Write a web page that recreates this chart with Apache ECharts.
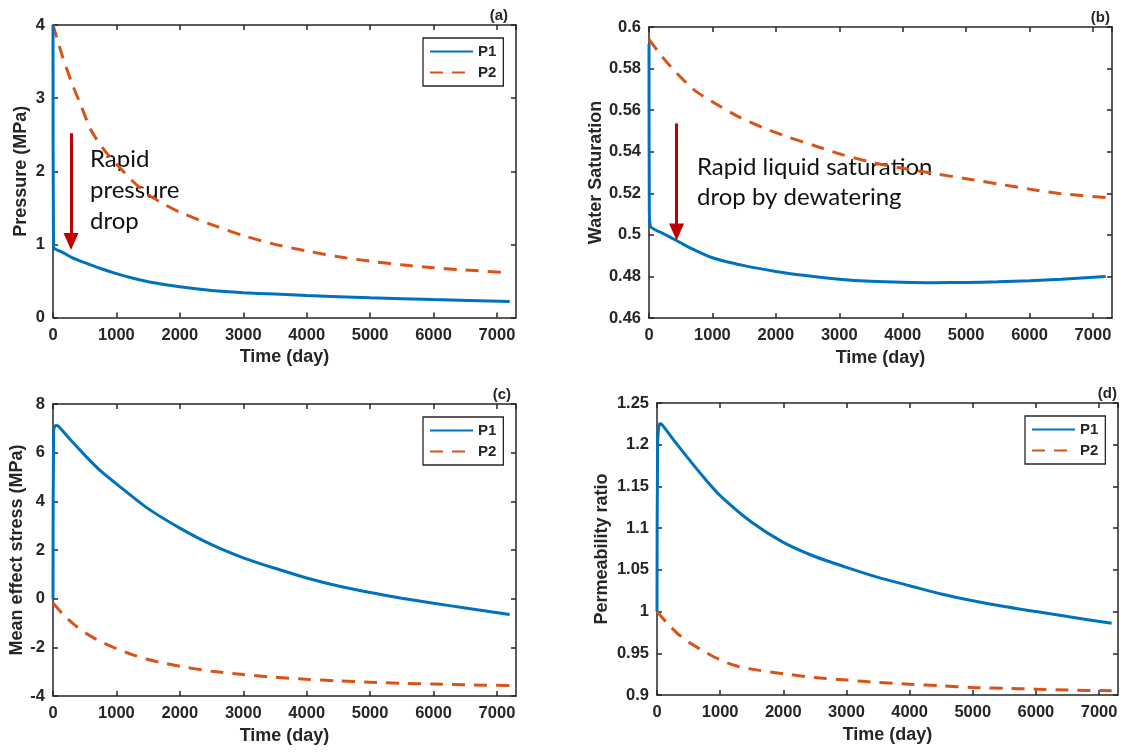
<!DOCTYPE html>
<html>
<head>
<meta charset="utf-8">
<title>Dewatering response P1 / P2</title>
<script src="https://cdn.jsdelivr.net/npm/echarts@6/dist/echarts.min.js"></script>
<style>
  html, body { margin: 0; padding: 0; background: #fff; }
  #main { width: 1125px; height: 752px; }
</style>
</head>
<body>
<div id="main"></div>
<script>
// (a) pressure, MPa
var tPresP1 = [0, 8, 50, 150, 300, 500, 750, 1000, 1250, 1500, 2000, 2500, 3000, 3500, 4000, 5000, 6000, 7200];
var presP1 = [4.0, 0.96, 0.93, 0.89, 0.82, 0.75, 0.67, 0.60, 0.54, 0.49, 0.42, 0.37, 0.34, 0.32, 0.30, 0.27, 0.245, 0.22];
var tPresP2 = [0, 150, 300, 450, 600, 800, 1000, 1250, 1500, 1750, 2000, 2500, 3000, 3500, 4000, 4500, 5000, 5500, 6000, 6500, 7200];
var presP2 = [4.0, 3.57, 3.2, 2.88, 2.56, 2.3, 2.1, 1.87, 1.68, 1.55, 1.44, 1.27, 1.12, 1.0, 0.91, 0.83, 0.77, 0.72, 0.68, 0.65, 0.61];

// (b) water saturation
var tSatP1 = [0, 5, 25, 200, 400, 600, 1000, 1500, 2000, 2500, 3000, 3500, 4000, 4500, 5000, 5500, 6000, 6500, 7200];
var satP1 = [0.592, 0.512, 0.504, 0.501, 0.4978, 0.4945, 0.489, 0.4852, 0.4824, 0.4803, 0.4787, 0.4777, 0.4772, 0.4770, 0.4771, 0.4774, 0.4779, 0.4786, 0.4800];
var tSatP2 = [0, 200, 400, 700, 1000, 1400, 1800, 2200, 2600, 3000, 3500, 4000, 4500, 5000, 5500, 6000, 6500, 7200];
var satP2 = [0.594, 0.586, 0.579, 0.570, 0.564, 0.557, 0.5515, 0.547, 0.543, 0.539, 0.535, 0.532, 0.5295, 0.527, 0.5245, 0.522, 0.5198, 0.518];

// (c) mean effective stress, MPa
var tStrP1 = [0, 10, 40, 80, 250, 500, 750, 1000, 1500, 2000, 2500, 3000, 3500, 4000, 4500, 5000, 5500, 6000, 6500, 7200];
var strP1 = [0, 6.9, 7.12, 7.1, 6.6, 5.9, 5.25, 4.72, 3.7, 2.9, 2.22, 1.68, 1.25, 0.85, 0.52, 0.25, 0.02, -0.19, -0.38, -0.65];
var tStrP2 = [0, 150, 350, 600, 800, 1000, 1250, 1500, 1750, 2000, 2500, 3000, 3500, 4000, 4500, 5000, 5500, 6000, 6500, 7200];
var strP2 = [-0.18, -0.62, -1.1, -1.55, -1.82, -2.05, -2.3, -2.5, -2.65, -2.78, -2.98, -3.12, -3.23, -3.31, -3.38, -3.43, -3.48, -3.51, -3.54, -3.57];

// (d) permeability ratio
var tPermP1 = [0, 10, 40, 80, 250, 500, 750, 1000, 1500, 2000, 2500, 3000, 3500, 4000, 4500, 5000, 5500, 6000, 6500, 7200];
var permP1 = [1.0, 1.2, 1.225, 1.224, 1.207, 1.183, 1.16, 1.139, 1.107, 1.083, 1.066, 1.053, 1.041, 1.031, 1.021, 1.013, 1.006, 1.0, 0.994, 0.986];
var tPermP2 = [0, 150, 350, 550, 750, 1000, 1250, 1500, 2000, 2500, 3000, 3500, 4000, 4500, 5000, 5500, 6000, 6500, 7200];
var permP2 = [1.0, 0.987, 0.972, 0.961, 0.952, 0.942, 0.935, 0.931, 0.9255, 0.921, 0.918, 0.915, 0.913, 0.911, 0.909, 0.908, 0.907, 0.906, 0.905];

var seriesNames = ['P1', 'P2'];
var xRange = [0, 7300, 1000];

// arrows: [time, from value, to value]
var arrowA = [284, 2.52, 1.04];
var arrowB = [435, 0.5536, 0.5014];

var BLUE = '#0072BD';
var ORANGE = '#D95319';
var INK = '#262626';
var FONT = '"Liberation Sans", Arial, sans-serif';

function pairs(t, v) {
    var out = [];
    for (var i = 0; i < t.length; i++) out.push([t[i], v[i]]);
    return out;
}

function fmt(v) {
    return String(+v.toFixed(2));
}

var panels = [
    { tag: '(a)', tagOff: 8, grid: { left: 53, top: 25, width: 463, height: 292.5 }, y: [0, 4, 1], yName: 'Pressure (MPa)', yGap: 23,
      p1: pairs(tPresP1, presP1), p2: pairs(tPresP2, presP2), arrow: arrowA, legend: true },
    { tag: '(b)', tagOff: 2, grid: { left: 649, top: 27, width: 463, height: 291 }, y: [0.46, 0.6, 0.02], yName: 'Water Saturation', yGap: 44,
      p1: pairs(tSatP1, satP1), p2: pairs(tSatP2, satP2), arrow: arrowB, legend: false },
    { tag: '(c)', tagOff: 5, grid: { left: 53, top: 404, width: 463, height: 292 }, y: [-4, 8, 2], yName: 'Mean effect stress (MPa)', yGap: 27,
      p1: pairs(tStrP1, strP1), p2: pairs(tStrP2, strP2), arrow: null, legend: true },
    { tag: '(d)', tagOff: 1, grid: { left: 657, top: 403, width: 461, height: 292 }, y: [0.9, 1.25, 0.05], yName: 'Permeability ratio', yGap: 46,
      p1: pairs(tPermP1, permP1), p2: pairs(tPermP2, permP2), arrow: null, legend: true }
];

var grids = [], xAxes = [], yAxes = [], series = [], legends = [], graphics = [];

var lineAxis = { show: true, onZero: false, lineStyle: { color: INK, width: 1.5 } };
var tickIn = { show: true, inside: true, length: 5, lineStyle: { color: INK, width: 1.5 } };
var tickLabel = { color: INK, fontFamily: FONT, fontWeight: 'bold', fontSize: 16.5 };
var nameStyle = { color: INK, fontFamily: FONT, fontWeight: 'bold', fontSize: 18 };

panels.forEach(function (p, i) {
    var g = p.grid;
    grids.push({ left: g.left, top: g.top, width: g.width, height: g.height, containLabel: false, outerBoundsMode: 'none' });

    // bottom + top x axes (box with ticks)
    xAxes.push({
        type: 'value', gridIndex: i, position: 'bottom', min: xRange[0], max: xRange[1], interval: xRange[2],
        axisLine: lineAxis, axisTick: tickIn, splitLine: { show: false },
        axisLabel: Object.assign({ margin: 9, showMaxLabel: false, formatter: function (v) { return String(v); } }, tickLabel),
        name: 'Time (day)', nameLocation: 'middle', nameGap: 31, nameTextStyle: nameStyle
    });
    xAxes.push({
        type: 'value', gridIndex: i, position: 'top', min: xRange[0], max: xRange[1], interval: xRange[2],
        axisLine: lineAxis, axisTick: tickIn, splitLine: { show: false }, axisLabel: { show: false }
    });

    yAxes.push({
        type: 'value', gridIndex: i, position: 'left', min: p.y[0], max: p.y[1], interval: p.y[2],
        axisLine: lineAxis, axisTick: tickIn, splitLine: { show: false },
        axisLabel: Object.assign({ margin: 8, formatter: fmt }, tickLabel),
        name: p.yName, nameLocation: 'middle', nameGap: p.yGap, nameTextStyle: nameStyle
    });
    yAxes.push({
        type: 'value', gridIndex: i, position: 'right', min: p.y[0], max: p.y[1], interval: p.y[2],
        axisLine: lineAxis, axisTick: tickIn, splitLine: { show: false }, axisLabel: { show: false }
    });

    var s1 = {
        name: seriesNames[0], type: 'line', xAxisIndex: 2 * i, yAxisIndex: 2 * i,
        data: p.p1, symbol: 'none', smooth: 0.25, z: 3,
        lineStyle: { color: BLUE, width: 3 }, itemStyle: { color: BLUE }
    };
    if (p.arrow) {
        s1.markLine = {
            silent: true, symbol: ['none', 'triangle'], symbolSize: 16,
            label: { show: false },
            lineStyle: { color: '#C00000', width: 3, type: 'solid' },
            data: [[
                { coord: [p.arrow[0], p.arrow[1]], symbol: 'none' },
                { coord: [p.arrow[0], p.arrow[2]], symbol: 'triangle', symbolSize: [15, 17] }
            ]]
        };
    }
    series.push(s1);
    series.push({
        name: seriesNames[1], type: 'line', xAxisIndex: 2 * i, yAxisIndex: 2 * i,
        data: p.p2, symbol: 'none', smooth: 0.25, z: 2,
        lineStyle: { color: ORANGE, width: 3, type: [13, 9] }, itemStyle: { color: ORANGE }
    });

    if (p.legend) {
        legends.push({
            orient: 'vertical', left: g.left + g.width - 93, top: g.top + 13,
            data: seriesNames, selectedMode: false,
            backgroundColor: '#fff', borderColor: INK, borderWidth: 1.3, borderRadius: 0,
            padding: [6, 7, 6, 6], itemGap: 6, itemWidth: 43, itemHeight: 14,
            itemStyle: { opacity: 0 },
            textStyle: { color: INK, fontFamily: FONT, fontWeight: 'bold', fontSize: 15 }
        });
    }

    graphics.push({
        type: 'text', right: 1125 - (g.left + g.width) + p.tagOff, top: g.top - 17,
        style: { text: p.tag, fill: INK, font: 'bold 15px ' + FONT }
    });
});

// annotation text
var noteFont = '24px Lato, "Open Sans", sans-serif';
graphics.push({ type: 'text', left: 90, top: 144, style: { text: 'Rapid\npressure\ndrop', fill: '#111', font: noteFont, lineHeight: 31 } });
graphics.push({ type: 'text', left: 697, top: 152, style: { text: 'Rapid liquid saturation\ndrop by dewatering', fill: '#111', font: noteFont, lineHeight: 30 } });

var myChart = echarts.init(document.getElementById('main'));
myChart.setOption({
    animation: false,
    backgroundColor: '#fff',
    grid: grids,
    xAxis: xAxes,
    yAxis: yAxes,
    legend: legends,
    series: series,
    graphic: graphics
});
window.addEventListener('resize', function () {
    myChart.resize();
});
</script>
</body>
</html>
